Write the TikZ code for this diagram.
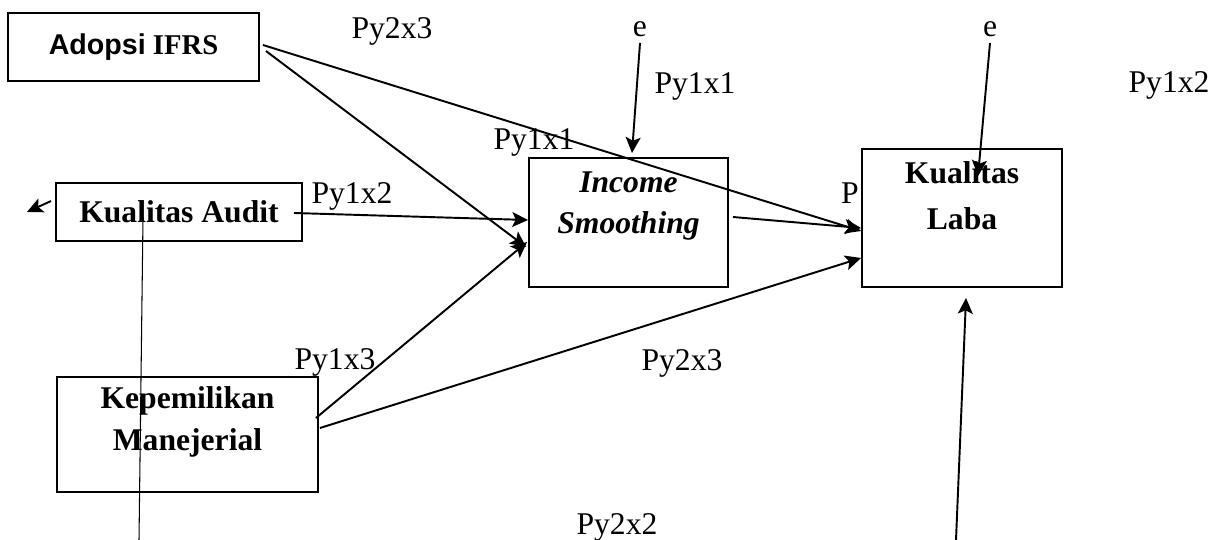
\documentclass[tikz,border=0pt]{standalone}
\usepackage{fontspec}
\setmainfont{Liberation Serif}
\newfontfamily\arialfont{Liberation Sans}
\usetikzlibrary{arrows.meta, positioning}

\begin{document}
\begin{tikzpicture}[
		x=0.02cm, y=-0.02cm,
		font=\fontsize{18}{23.5}\selectfont,
		% --- estilos de los bloques ---
		box/.style = {draw, fill=white, rectangle, line width=1.1pt, align=center},
		boxtext/.style = {align=center, font=\fontsize{18}{23.5}\selectfont\bfseries},
		coef/.style = {anchor=base, inner sep=3pt},
		path_arrow/.style = {->, line width=1.1pt},
		>={Stealth[length=9pt, width=8.5pt, inset=2pt]}
		]
		
		\fill [white] (0,0) rectangle (1222,540);
		\useasboundingbox (0,0) rectangle (1222,540);
		
		% =========================================================================
		% 1. bloques (variabel)
		% =========================================================================
		\node [box, minimum width=5.02cm, minimum height=1.36cm, font=\fontsize{16.3}{19}\selectfont\bfseries] (adopsi) at (133.5,47) {{\arialfont Adopsi} IFRS};
		\node [box, minimum width=4.92cm, minimum height=1.16cm, font=\fontsize{18}{23.5}\selectfont\bfseries] (audit) at (179,212) {Kualitas Audit};
		\node [box, minimum width=5.22cm, minimum height=2.3cm] (kepemilikan) at (187.5,434.5) {};
		\node [boxtext] (kepemilikan_txt) at ([yshift=0.25cm]kepemilikan.center) {Kepemilikan\\Manejerial};
		\node [box, minimum width=3.98cm, minimum height=2.58cm] (income) at (628.5,222.5) {};
		\node [boxtext] (income_txt) at ([yshift=0.33cm]income.center) {\itshape Income\\[-0.5pt]\itshape Smoothing};
		
		% la etiqueta queda tapada por el bloque de Kualitas Laba
		\node [coef] (coef_p) at (850,204) {P};
		\node [box, minimum width=4cm, minimum height=2.76cm] (laba) at (962,218) {};
		\node [boxtext] (laba_txt) at ([yshift=0.44cm]laba.center) {Kualitas\\[2.5pt]Laba};
		
		% =========================================================================
		% 2. koefisien jalur dan error
		% =========================================================================
		\node [coef] (coef_top) at (392,39) {Py2x3};
		\node [coef] (e_income) at (640,37) {e};
		\node [coef] (e_laba) at (990,37) {e};
		\node [coef] (coef_e1) at (695,94) {Py1x1};
		\node [coef] (coef_right) at (1169,93) {Py1x2};
		\node [coef] (coef_income) at (534,150) {Py1x1};
		\node [coef] (coef_audit) at (352,204) {Py1x2};
		\node [coef] (coef_kep) at (335,369) {Py1x3};
		\node [coef] (coef_laba) at (682,370) {Py2x3};
		\node [coef] (coef_bottom) at (617,534) {Py2x2};
		
		% =========================================================================
		% 3. flechas
		% =========================================================================
		\draw [path_arrow] ([xshift=0.12cm, yshift=-0.08cm]adopsi.east) -- ([xshift=-0.04cm, yshift=-0.49cm]income.west);
		\draw [path_arrow] ([xshift=0.06cm, yshift=0.04cm]adopsi.east) -- ([yshift=-0.26cm]laba.west);
		\draw [path_arrow] ([xshift=-0.18cm, yshift=-0.02cm]audit.east) -- ([yshift=0.05cm]income.west);
		\draw [path_arrow] ([xshift=-0.06cm, yshift=0.33cm]kepemilikan.east) -- ([xshift=-0.02cm, yshift=-0.39cm]income.west);
		\draw [path_arrow] ([xshift=0.02cm, yshift=0.13cm]kepemilikan.east) -- ([yshift=-0.8cm]laba.west);
		\draw [path_arrow] ([xshift=0.08cm, yshift=0.11cm]income.east) -- ([yshift=-0.2cm]laba.west);
		\draw [path_arrow] (e_income.south) -- ([xshift=0.07cm, yshift=0.08cm]income.north);
		\draw [path_arrow] (e_laba.south) -- ([xshift=0.32cm, yshift=-0.56cm]laba.north);
		
		\coordinate (bawah) at (956,540);
		\draw [path_arrow] (bawah) -- ([xshift=0.08cm, yshift=-0.2cm]laba.south);
		
		\coordinate (kiri) at (27,212);
		\draw [path_arrow] ([xshift=-0.08cm, yshift=0.22cm]audit.west) -- (kiri);
		
		% garis tipis vertikal
		\coordinate (garis_bawah) at (139,540);
		\draw [line width=0.6pt] ([xshift=-0.72cm, yshift=-0.1cm]audit.center) -- (garis_bawah);
		
	\end{tikzpicture}
\end{document}
